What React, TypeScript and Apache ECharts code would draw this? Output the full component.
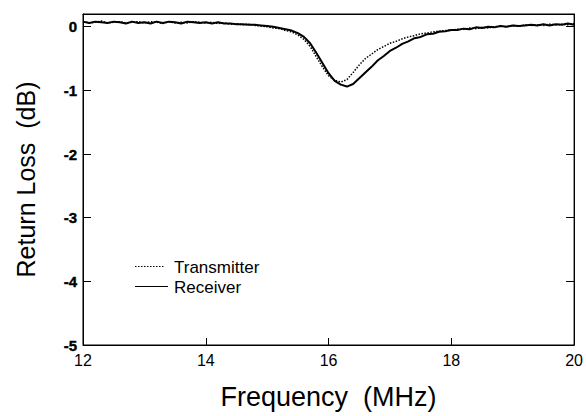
import React, { useEffect, useRef } from "react";
import * as echarts from "echarts";

const frequencyMHz = [
  12.0, 12.1, 12.2, 12.3, 12.4, 12.5, 12.6, 12.7, 12.8, 12.9,
  13.0, 13.1, 13.2, 13.3, 13.4, 13.5, 13.6, 13.7, 13.8, 13.9,
  14.0, 14.1, 14.2, 14.3, 14.4, 14.5, 14.6, 14.7, 14.8, 14.9,
  15.0, 15.1, 15.2, 15.3, 15.4, 15.5, 15.6, 15.7, 15.8, 15.9,
  16.0, 16.1, 16.2, 16.3, 16.4, 16.5, 16.6, 16.7, 16.8, 16.9,
  17.0, 17.1, 17.2, 17.3, 17.4, 17.5, 17.6, 17.7, 17.8, 17.9,
  18.0, 18.1, 18.2, 18.3, 18.4, 18.5, 18.6, 18.7, 18.8, 18.9,
  19.0, 19.1, 19.2, 19.3, 19.4, 19.5, 19.6, 19.7, 19.8, 19.9,
  20.0,
];

const transmitterDb = [
  0.08, 0.06, 0.07, 0.09, 0.06, 0.07, 0.08, 0.06, 0.07, 0.08,
  0.06, 0.08, 0.07, 0.05, 0.08, 0.06, 0.07, 0.06, 0.08, 0.07,
  0.06, 0.07, 0.05, 0.06, 0.04, 0.05, 0.03, 0.04, 0.02, 0.01,
  0.0, -0.02, -0.03, -0.06, -0.08, -0.13, -0.2, -0.31, -0.47, -0.63,
  -0.77, -0.84, -0.87, -0.83, -0.72, -0.6, -0.5, -0.43, -0.36, -0.31,
  -0.26, -0.23, -0.19, -0.16, -0.14, -0.11, -0.1, -0.08, -0.07, -0.06,
  -0.05, -0.04, -0.04, -0.02, -0.03, -0.01, -0.02, 0.0, 0.01, 0.0,
  0.02, 0.01, 0.03, 0.02, 0.03, 0.02, 0.04, 0.03, 0.04, 0.03,
  0.05,
];

const receiverDb = [
  0.08, 0.06, 0.08, 0.07, 0.06, 0.08, 0.07, 0.05, 0.08, 0.06,
  0.07, 0.05, 0.08, 0.06, 0.08, 0.07, 0.05, 0.08, 0.07, 0.06,
  0.07, 0.05, 0.07, 0.05, 0.05, 0.04, 0.04, 0.03, 0.03, 0.02,
  0.01, 0.0, -0.02, -0.04, -0.06, -0.1, -0.16, -0.26, -0.41, -0.57,
  -0.73, -0.85, -0.91, -0.94, -0.9, -0.81, -0.72, -0.63, -0.53, -0.46,
  -0.38, -0.33, -0.27, -0.23, -0.18, -0.16, -0.12, -0.11, -0.08, -0.07,
  -0.05, -0.05, -0.03, -0.04, -0.01, -0.02, 0.0, -0.01, 0.01, 0.0,
  0.02, 0.01, 0.02, 0.03, 0.02, 0.04, 0.02, 0.04, 0.03, 0.05,
  0.03,
];

const legendNames = ["Transmitter", "Receiver"];

const FONT = "'Liberation Sans', Arial, Helvetica, sans-serif";

export default function App() {
  const ref = useRef<HTMLDivElement>(null);

  useEffect(() => {
    if (!ref.current) return;
    const chart = echarts.init(ref.current, undefined, { renderer: "svg" });
    const tData = frequencyMHz.map((f, i) => [f, transmitterDb[i]]);
    const rData = frequencyMHz.map((f, i) => [f, receiverDb[i]]);
    const axisLine = { show: true, onZero: false, lineStyle: { color: "#000", width: 1 } };

    chart.setOption({
      animation: false,
      backgroundColor: "#fff",
      grid: {
        left: 83,
        right: 10,
        top: 14,
        bottom: 71,
        containLabel: false,
        show: true,
        borderColor: "#000",
        borderWidth: 1,
        backgroundColor: "transparent",
      },
      xAxis: [
        {
          type: "value",
          min: 12,
          max: 20,
          interval: 2,
          position: "bottom",
          axisLine,
          axisTick: { show: true, inside: true, length: 7, lineStyle: { color: "#000" } },
          axisLabel: { color: "#000", fontFamily: FONT, fontSize: 16, margin: 7 },
          splitLine: { show: false },
          name: "Frequency  (MHz)",
          nameLocation: "middle",
          nameGap: 38,
          nameTextStyle: { color: "#000", fontFamily: FONT, fontSize: 27 },
        },
        {
          type: "value",
          min: 12,
          max: 20,
          position: "top",
          axisLine,
          axisTick: { show: false },
          axisLabel: { show: false },
          splitLine: { show: false },
        },
      ],
      yAxis: [
        {
          type: "value",
          min: -5,
          max: 0.2,
          interval: 1,
          position: "left",
          axisLine,
          axisTick: { show: true, inside: true, length: 8, lineStyle: { color: "#000" } },
          axisLabel: {
            color: "#000",
            fontFamily: FONT,
            fontSize: 15,
            fontWeight: 700,
            textBorderColor: "#000",
            textBorderWidth: 0.4,
            margin: 6,
            formatter: (v: number) => (Math.abs(v - Math.round(v)) < 1e-6 ? String(Math.round(v)) : ""),
          },
          splitLine: { show: false },
          name: "Return Loss  (dB)",
          nameLocation: "middle",
          nameGap: 45,
          nameTextStyle: { color: "#000", fontFamily: FONT, fontSize: 25 },
        },
        {
          type: "value",
          min: -5,
          max: 0.2,
          interval: 1,
          position: "right",
          axisLine,
          axisTick: { show: true, inside: true, length: 8, lineStyle: { color: "#000" } },
          axisLabel: { show: false },
          splitLine: { show: false },
        },
      ],
      series: [
        {
          name: legendNames[0],
          type: "line",
          data: tData,
          showSymbol: false,
          symbol: "none",
          lineStyle: { color: "#000", width: 1.5, type: [1.5, 1.5] },
          z: 3,
        },
        {
          name: legendNames[1],
          type: "line",
          data: rData,
          showSymbol: false,
          symbol: "none",
          lineStyle: { color: "#000", width: 2, type: "solid" },
          z: 4,
        },
      ],
      graphic: [
        {
          type: "line",
          shape: { x1: 135, y1: 266.5, x2: 165, y2: 266.5 },
          style: { stroke: "#000", lineWidth: 1, lineDash: [1.5, 1.5] },
        },
        {
          type: "line",
          shape: { x1: 135, y1: 286.5, x2: 168, y2: 286.5 },
          style: { stroke: "#000", lineWidth: 1.2 },
        },
        {
          type: "text",
          x: 174,
          y: 267,
          style: { text: legendNames[0], fill: "#000", font: `17px ${FONT}`, textVerticalAlign: "middle" },
        },
        {
          type: "text",
          x: 174,
          y: 287,
          style: { text: legendNames[1], fill: "#000", font: `17px ${FONT}`, textVerticalAlign: "middle" },
        },
      ],
    });

    return () => chart.dispose();
  }, []);

  return <div ref={ref} style={{ width: 586, height: 416, position: "absolute", left: 0, top: 0 }} />;
}
